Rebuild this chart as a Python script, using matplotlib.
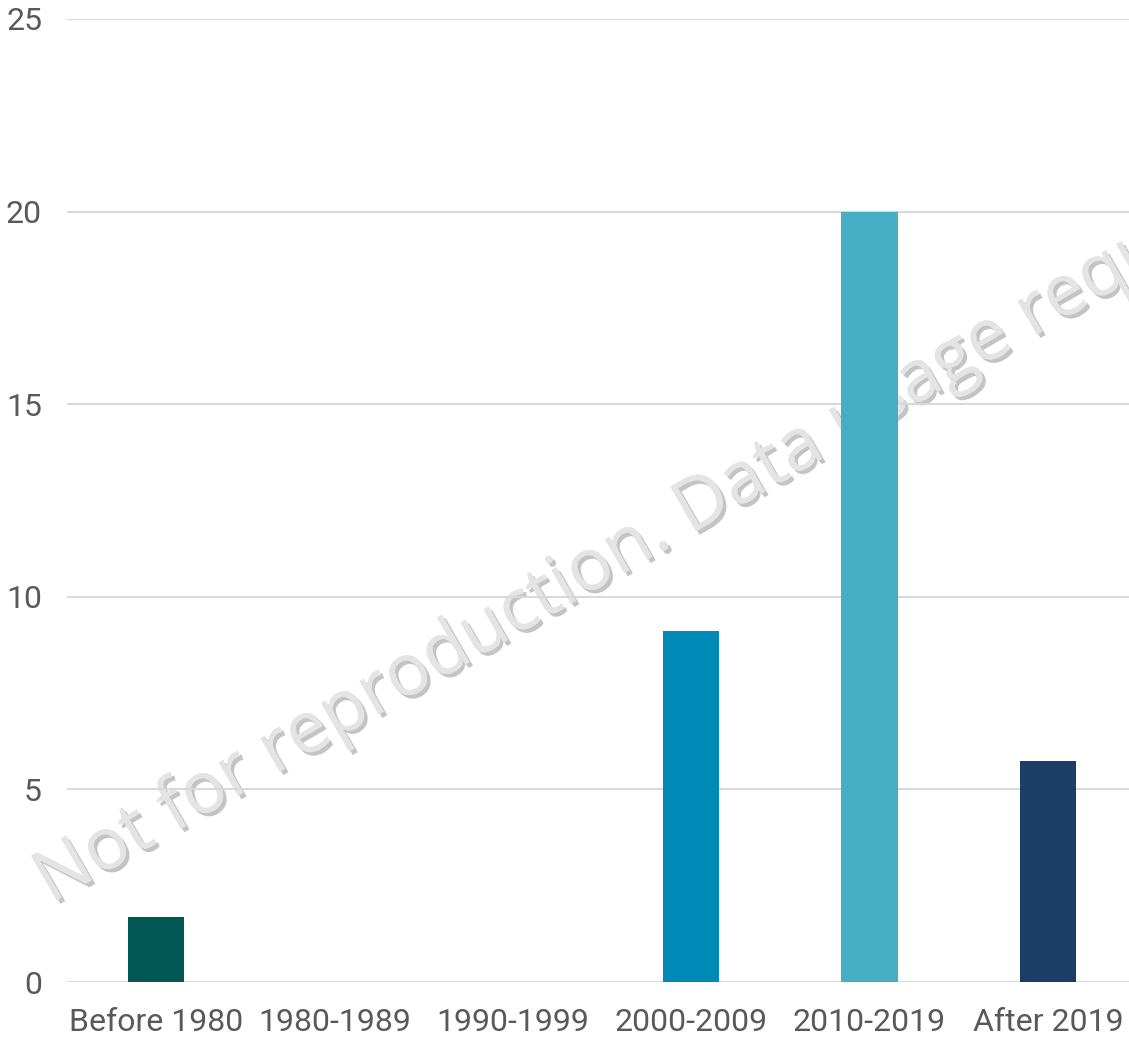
import matplotlib.pyplot as plt
import matplotlib.patheffects as pe

categories = ["Before 1980", "1980-1989", "1990-1999", "2000-2009", "2010-2019", "After 2019"]
values = [1.7, 0, 0, 9.12, 20, 5.75]
colors = ["#005753", "#0b6f6b", "#1b7e9a", "#008ab8", "#46aec4", "#1c3d66"]
yticks = [0, 5, 10, 15, 20, 25]

fig = plt.figure(figsize=(11.29, 10.39), dpi=100)
ax = fig.add_axes([67 / 1129, 57 / 1039, 1 - 67 / 1129, (982 - 19) / 1039])

x = list(range(len(categories)))
ax.bar(x, values, width=0.315, color=colors, zorder=3)

ax.set_ylim(0, 25)
ax.set_xlim(-0.5, 5.455)
ax.set_yticks(yticks)
ax.set_xticks(x)
ax.set_xticklabels(categories)
ax.grid(axis="y", color="#d9d9d9", linewidth=1.5, zorder=0)
ax.set_axisbelow(True)
for s in ax.spines.values():
    s.set_visible(False)
ax.tick_params(length=0, labelsize=23, labelcolor="#595959", pad=19)
ax.tick_params(axis="y", pad=18)
for lab in ax.get_xticklabels() + ax.get_yticklabels():
    lab.set_fontfamily("Roboto")

# watermark behind the bars
wm = fig.text(0.045, 0.13, "Not for reproduction. Data usage requires permission",
              rotation=30, rotation_mode="anchor", ha="left", va="baseline",
              fontsize=52, family="Open Sans", color="#e4e4e4",
              path_effects=[pe.withSimplePatchShadow(offset=(2.5, -2.5), shadow_rgbFace="#8a8a8a", alpha=0.5),
                            pe.Normal()])
wm.set_zorder(1)
ax.set_zorder(2)
ax.patch.set_alpha(0)

fig.savefig("out.png", dpi=100)
